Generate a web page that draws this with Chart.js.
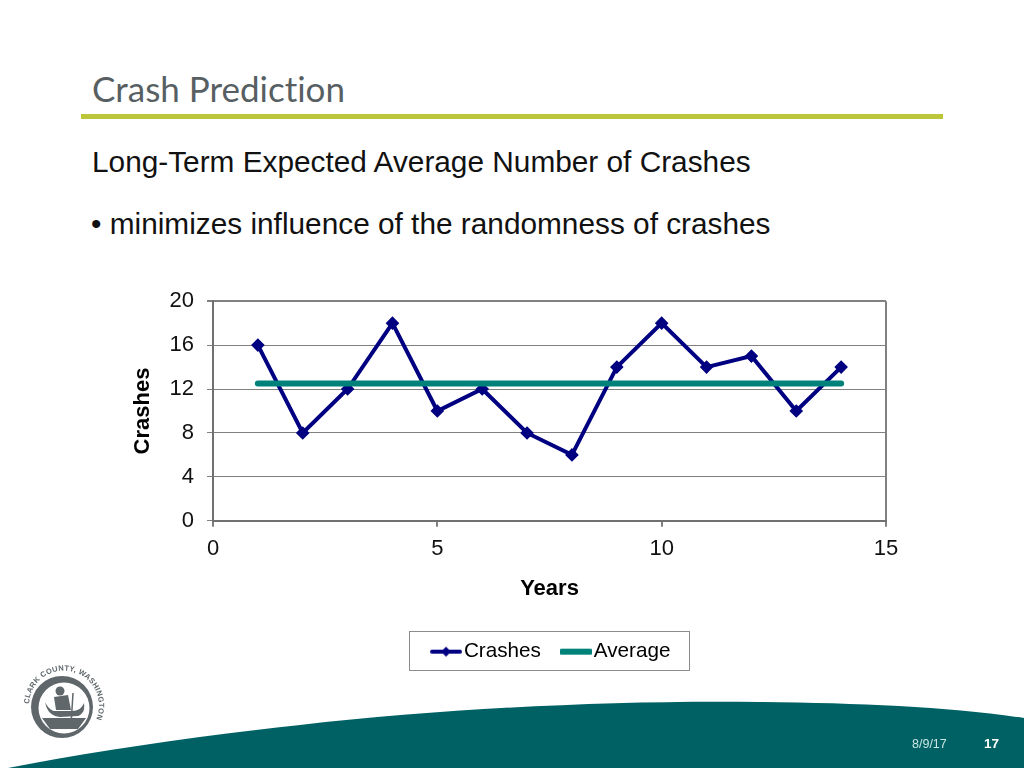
<!DOCTYPE html>
<html>
<head>
<meta charset="utf-8">
<title>Crash Prediction</title>
<script src="https://cdn.jsdelivr.net/npm/chart.js@4"></script>
<style>
html, body { margin: 0; padding: 0; background: #fff; }
body { width: 1024px; height: 768px; position: relative; overflow: hidden; font-family: "Liberation Sans", Arial, sans-serif; }
.txt { position: absolute; white-space: nowrap; }
#title { left: 92px; top: 65px; font: 35px/46px Lato, sans-serif; font-variant-ligatures: none; color: #575f63; }
#rule { position: absolute; left: 81px; top: 114px; width: 862px; height: 5px; background: #bcc63a; }
#sub { left: 92px; top: 146px; font-size: 29.8px; line-height: 32px; color: #111; }
#bullet { left: 91px; top: 208px; font-size: 29.8px; line-height: 32px; color: #111; }
#legendBox { position: absolute; left: 409px; top: 631px; width: 279px; height: 38px; border: 1px solid #8c8c8c; }
#chartWrap { position: absolute; left: 100px; top: 275px; width: 898px; height: 403px; }
#swoosh, #logo { position: absolute; left: 0; top: 0; }
#date { left: 912px; top: 737px; font-size: 12.5px; line-height: 14px; color: #c8e6e4; }
#page { left: 984px; top: 737px; font-size: 13.5px; line-height: 14px; font-weight: bold; color: #fff; }
</style>
</head>
<body>
<div class="txt" id="title">Crash Prediction</div>
<div id="rule"></div>
<div class="txt" id="sub">Long-Term Expected Average Number of Crashes</div>
<div class="txt" id="bullet">• minimizes influence of the randomness of crashes</div>

<div id="legendBox"></div>
<div id="chartWrap"><canvas id="myChart"></canvas></div>

<svg id="swoosh" width="1024" height="768">
	<path d="M8 768 C 100 750, 200 736, 300 725 C 450 708, 620 700, 760 702 C 860 703, 950 707, 1024 718 L 1024 768 Z" fill="#006164"/>
</svg>
<svg id="logo" width="1024" height="768">
	<defs><path id="ring" d="M29 704 A 35 35 0 1 1 88 731"/></defs>
	<circle cx="62" cy="707" r="31" fill="#5f676b"/>
	<circle cx="64" cy="708" r="25.5" fill="#fff"/>
	<path d="M45 702 C 47 712, 52 716, 60 717 L 78 716 C 83 714, 85 710, 84 703 C 82 708, 78 711, 72 711 L 54 711 C 50 710, 47 706, 45 702 Z" fill="#5f676b"/>
	<circle cx="60" cy="691" r="4.5" fill="#5f676b"/>
	<path d="M54 697 L68 695 L71 710 L56 710 Z" fill="#5f676b"/>
	<path d="M73 693 L71 725" stroke="#5f676b" stroke-width="1.5"/>
	<path d="M42 718 L86 718 L78 729 L50 729 Z" fill="#5f676b"/>
	<text font-family="Liberation Sans" font-weight="bold" font-size="7.5" fill="#5f676b" letter-spacing="0.3"><textPath href="#ring">CLARK COUNTY, WASHINGTON</textPath></text>
</svg>
<div class="txt" id="date">8/9/17</div>
<div class="txt" id="page">17</div>

<script>
	var yearValues = [1, 2, 3, 4, 5, 6, 7, 8, 9, 10, 11, 12, 13, 14];
	var crashValues = [16, 8, 12, 18, 10, 12, 8, 6, 14, 18, 14, 15, 10, 14];
	var averageValues = [12.5, 12.5, 12.5, 12.5, 12.5, 12.5, 12.5, 12.5, 12.5, 12.5, 12.5, 12.5, 12.5, 12.5];
	var xTicks = [0, 5, 10, 15];
	var yTicks = [0, 4, 8, 12, 16, 20];

	var navy = '#000080';
	var teal = '#00827a';
	var gridGrey = '#808080';

	function toPoints(values) {
		return values.map(function(v, i) {
			return { x : yearValues[i], y : v };
		});
	}

	// legend key: line with optional diamond, as the library only does one or the other
	function legendKey(color, width, diamond) {
		var c = document.createElement('canvas');
		c.width = 32;
		c.height = 14;
		var g = c.getContext('2d');
		g.strokeStyle = color;
		g.lineWidth = width;
		g.lineCap = 'round';
		g.beginPath();
		g.moveTo(2, 7);
		g.lineTo(30, 7);
		g.stroke();
		if (diamond) {
			g.fillStyle = color;
			g.beginPath();
			g.moveTo(16, 2);
			g.lineTo(21, 7);
			g.lineTo(16, 12);
			g.lineTo(11, 7);
			g.closePath();
			g.fill();
		}
		return c;
	}

	var keyCrashes = legendKey(navy, 4, true);
	var keyAverage = legendKey(teal, 6, false);

	var fontLabel = { family : 'Liberation Sans', size : 20.7 };
	var fontTick = { family : 'Liberation Sans', size : 22 };
	var fontBold = { family : 'Liberation Sans', size : 22, weight : 'bold' };

	// the keys overhang their boxes, so nudge the legend to sit centred in its frame
	const nudgeLegend = {
		id : 'nudgeLegend',
		afterLayout : function(chart) {
			chart.legend.left += 5;
			chart.legend.right += 5;
		},
	};

	const config = {
		type : 'line',
		plugins : [ nudgeLegend ],
		data : {
			datasets : [ {
				label : 'Crashes',
				data : toPoints(crashValues),
				borderColor : navy,
				backgroundColor : navy,
				borderWidth : 4,
				pointStyle : 'rectRot',
				pointRadius : 4,
				pointBackgroundColor : navy,
				pointBorderColor : navy,
				borderJoinStyle : 'miter',
				order : 1,
			}, {
				label : 'Average',
				data : toPoints(averageValues),
				borderColor : teal,
				backgroundColor : teal,
				borderWidth : 6,
				borderCapStyle : 'round',
				pointRadius : 0,
				order : 0,
			} ]
		},
		options : {
			responsive : false,
			animation : false,
			layout : {
				padding : { left : 0, right : 112, top : 25, bottom : 6 },
			},
			plugins : {
				tooltip : { enabled : false },
				legend : {
					position : 'bottom',
					fullSize : false,
					labels : {
						color : '#000',
						font : fontLabel,
						usePointStyle : true,
						pointStyleWidth : 15,
						padding : 27.5,
						generateLabels : function(chart) {
							return chart.data.datasets.map(function(ds, i) {
								return {
									text : ds.label,
									datasetIndex : i,
									pointStyle : i == 0 ? keyCrashes : keyAverage,
									fontColor : '#000',
									lineWidth : 0,
									strokeStyle : 'transparent',
									fillStyle : 'transparent',
								};
							});
						},
					},
				},
			},
			scales : {
				x : {
					type : 'linear',
					min : 0,
					max : 15,
					afterBuildTicks : function(axis) {
						axis.ticks = xTicks.map(function(v) { return { value : v }; });
					},
					afterFit : function(axis) { axis.height = 93; },
					border : { color : '#707070', width : 2 },
					grid : {
						drawOnChartArea : true,
						tickLength : 6,
						tickColor : gridGrey,
						lineWidth : 2,
						color : function(ctx) {
							return ctx.tick && ctx.tick.value == 15 ? gridGrey : 'transparent';
						},
					},
					ticks : { color : '#111', font : fontTick, padding : 9, maxRotation : 0 },
					title : { display : true, text : 'Years', color : '#000', font : fontBold, padding : { top : 14, bottom : 12 } },
				},
				y : {
					min : 0,
					max : 20,
					afterBuildTicks : function(axis) {
						axis.ticks = yTicks.map(function(v) { return { value : v }; });
					},
					afterFit : function(axis) { axis.width = 113; },
					border : { color : '#707070', width : 2 },
					grid : {
						color : gridGrey,
						tickLength : 6,
						tickColor : gridGrey,
						lineWidth : function(ctx) {
							return ctx.tick && ctx.tick.value == 20 ? 2 : 1;
						},
					},
					ticks : { color : '#111', font : fontTick, padding : 13 },
					title : { display : true, text : 'Crashes', color : '#000', font : fontBold, padding : { top : 30 } },
				},
			},
		},
	};

	var canvas = document.getElementById('myChart');
	canvas.width = 898;
	canvas.height = 403;
	var myChart = new Chart(canvas, config);
</script>
</body>
</html>
